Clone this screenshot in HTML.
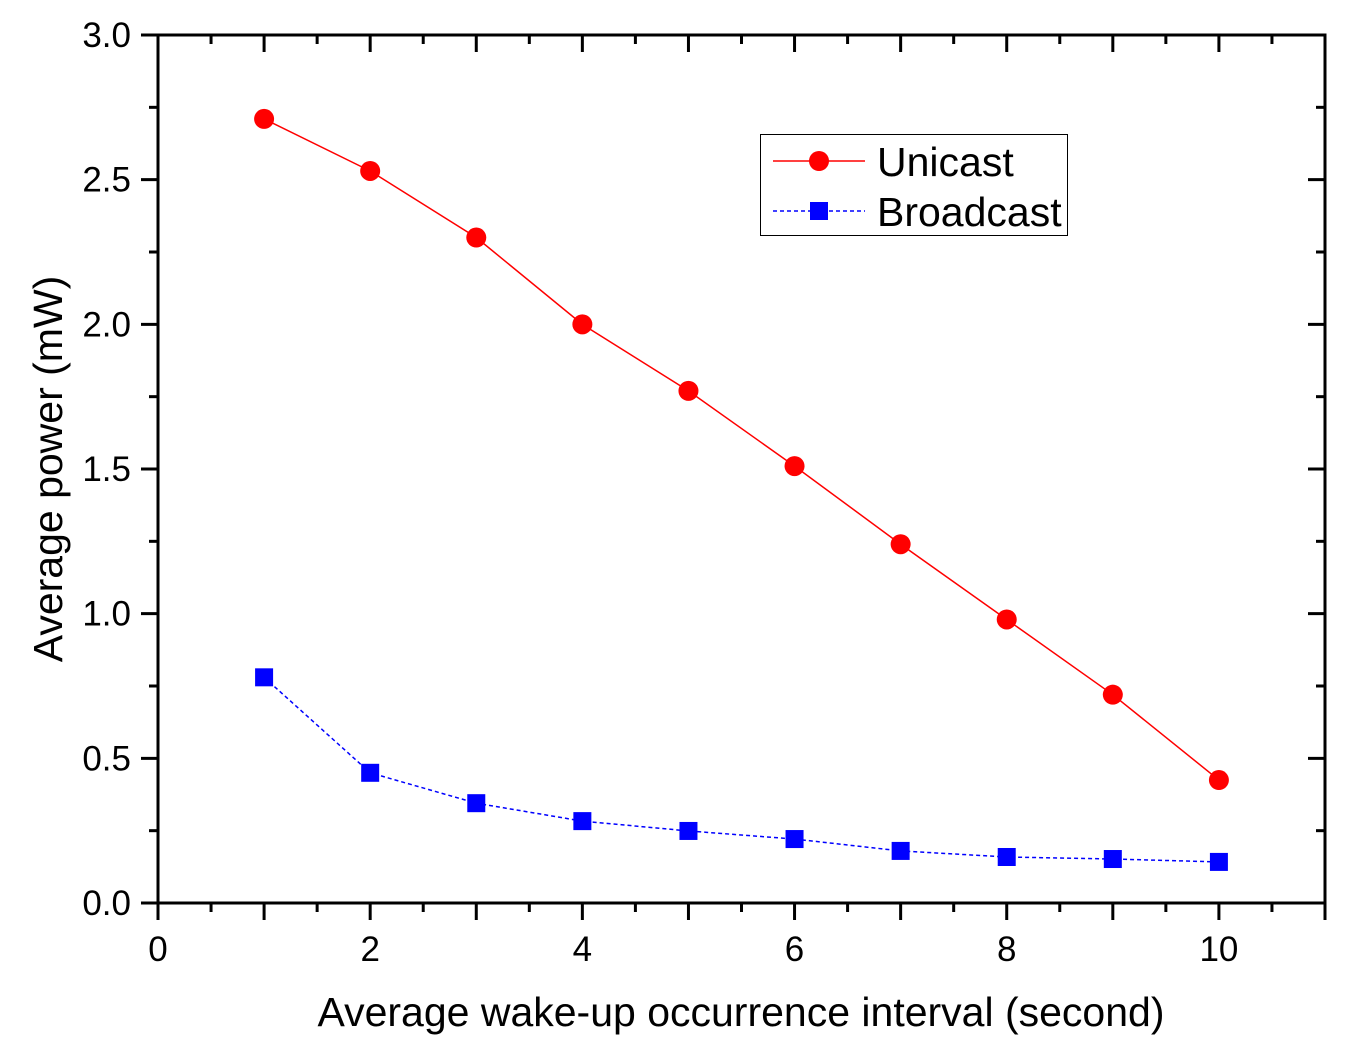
<!DOCTYPE html>
<html><head><meta charset="utf-8"><style>
html,body{margin:0;padding:0;background:#fff;}
svg{display:block;font-family:"Liberation Sans",Arial,sans-serif;}
</style></head><body>
<svg id="chart" width="1350" height="1059" viewBox="0 0 1350 1059" xmlns="http://www.w3.org/2000/svg"></svg>
<script>
const xValues=[1,2,3,4,5,6,7,8,9,10];
const unicastValues=[2.71,2.53,2.30,2.00,1.77,1.51,1.24,0.98,0.72,0.425];
const broadcastValues=[0.78,0.45,0.345,0.283,0.249,0.221,0.18,0.159,0.152,0.142];
const xTickLabels=[0,2,4,6,8,10];
const yTickLabels=["0.0","0.5","1.0","1.5","2.0","2.5","3.0"];

const L=158,R=1325,T=35,B=903;
const xs=v=>L+(v/11)*(R-L);
const ys=v=>B-(v/3)*(B-T);
const svg=document.getElementById('chart');
const NS='http://www.w3.org/2000/svg';
function mk(tag,attrs,parent){const e=document.createElementNS(NS,tag);for(const k in attrs)e.setAttribute(k,attrs[k]);(parent||svg).appendChild(e);return e;}

for(let i=0;i<=22;i++){
  const v=i*0.5,x=xs(v);
  const len=(i%2===0)?17:9;
  let t=mk('line',{x1:x,y1:B,x2:x,y2:B+len,stroke:'#000','stroke-width':3});
  
  
  t=mk('line',{x1:x,y1:T,x2:x,y2:T+len,stroke:'#000','stroke-width':3});
  
  
}
for(let i=0;i<=12;i++){
  const v=i*0.25,y=ys(v),len=(i%2===0)?17:9;
  let t=mk('line',{x1:L,y1:y,x2:L-len,y2:y,stroke:'#000','stroke-width':3});
  
  
  t=mk('line',{x1:R,y1:y,x2:R-len,y2:y,stroke:'#000','stroke-width':3});
  
  
}
const frame=mk('rect',{x:L,y:T,width:R-L,height:B-T,fill:'none',stroke:'#000','stroke-width':3});



xTickLabels.forEach(v=>{
  const t=mk('text',{x:xs(v),y:961,'font-size':35,'text-anchor':'middle'});
  t.textContent=v;
  
  
});
yTickLabels.forEach(s=>{
  const t=mk('text',{x:131,y:ys(parseFloat(s))+12,'font-size':35,'text-anchor':'end'});
  t.textContent=s;
  
  
});
let xt=mk('text',{x:741,y:1026,'font-size':41,'text-anchor':'middle'});
xt.textContent='Average wake-up occurrence interval (second)';


let yt=mk('text',{x:0,y:0,'font-size':41,'text-anchor':'middle',transform:'translate(62,469) rotate(-90)'});
yt.textContent='Average power (mW)';



const up=mk('polyline',{points:xValues.map((x,i)=>xs(x)+','+ys(unicastValues[i])).join(' '),fill:'none',stroke:'#f00','stroke-width':1.5});


const bp=mk('polyline',{points:xValues.map((x,i)=>xs(x)+','+ys(broadcastValues[i])).join(' '),fill:'none',stroke:'#00f','stroke-width':1.5,'stroke-dasharray':'4,3'});


xValues.forEach((x,i)=>{
  const c=mk('circle',{cx:xs(x),cy:ys(unicastValues[i]),r:10,fill:'#f00'});
  
  
  const s=mk('rect',{x:xs(x)-9,y:ys(broadcastValues[i])-9,width:18,height:18,fill:'#00f'});
  
  
});

const lg=mk('g',{});


mk('rect',{x:760.5,y:134.5,width:307,height:101,fill:'#fff',stroke:'#000','stroke-width':1},lg);
mk('line',{x1:773,y1:161,x2:865,y2:161,stroke:'#f00','stroke-width':1.5},lg);
mk('circle',{cx:819,cy:161,r:10,fill:'#f00'},lg);
mk('line',{x1:773,y1:211,x2:865,y2:211,stroke:'#00f','stroke-width':1.5,'stroke-dasharray':'4,3'},lg);
mk('rect',{x:810,y:202,width:18,height:18,fill:'#00f'},lg);
let l1=mk('text',{x:877,y:176,'font-size':41},lg);l1.textContent='Unicast';


let l2=mk('text',{x:877,y:226,'font-size':41},lg);l2.textContent='Broadcast';


</script>
</body></html>
